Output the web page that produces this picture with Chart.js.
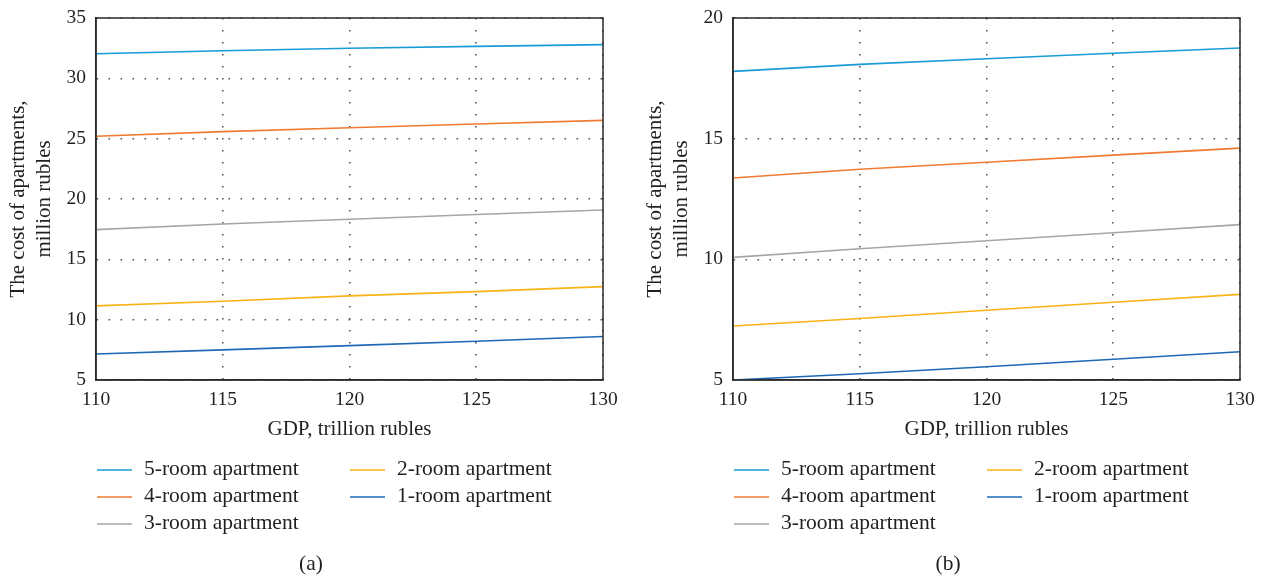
<!DOCTYPE html>
<html>
<head>
<meta charset="utf-8">
<title>Cost of apartments vs GDP</title>
<script src="https://cdn.jsdelivr.net/npm/chart.js@4.4.1/dist/chart.umd.min.js"></script>
<style>
  html, body { margin: 0; padding: 0; background: #fff; overflow: hidden; width: 1267px; height: 575px; }
  canvas { position: absolute; top: 0; }
  #chartA { left: 0; }
  #chartB { left: 637px; }
</style>
</head>
<body>
<canvas id="chartA" width="630" height="575"></canvas>
<canvas id="chartB" width="630" height="575"></canvas>
<script>
// GDP, trillion rubles
const gdp = [110, 115, 120, 125, 130];

const seriesNames = ['5-room apartment', '4-room apartment', '3-room apartment', '2-room apartment', '1-room apartment'];
const seriesColors = ['#1a9bd7', '#f07b30', '#a6a6a6', '#fbb216', '#2068b6'];

// Panel (a): cost of apartments, million rubles
const costA5 = [32.04, 32.29, 32.49, 32.65, 32.79];
const costA4 = [25.20, 25.58, 25.91, 26.22, 26.52];
const costA3 = [17.46, 17.93, 18.32, 18.71, 19.09];
const costA2 = [11.14, 11.53, 11.97, 12.32, 12.74];
const costA1 = [7.16, 7.50, 7.85, 8.21, 8.60];

// Panel (b): cost of apartments, million rubles
const costB5 = [17.79, 18.08, 18.31, 18.54, 18.76];
const costB4 = [13.37, 13.73, 14.02, 14.32, 14.61];
const costB3 = [10.08, 10.44, 10.77, 11.10, 11.44];
const costB2 = [7.24, 7.55, 7.89, 8.22, 8.55];
const costB1 = [5.00, 5.26, 5.55, 5.86, 6.17];

const xTicks = { min: 110, max: 130, step: 5 };
const yTicksA = { min: 5, max: 35, step: 5 };
const yTicksB = { min: 5, max: 20, step: 5 };

const TEXT = '#231f20';
const FAMILY = '"Liberation Serif", "Times New Roman", serif';
const FRAME = '#2a2a2a';

// Box around the whole plot area
const framePlugin = {
  id: 'frame',
  afterDatasetsDraw(chart) {
    const { ctx, chartArea: a } = chart;
    ctx.save();
    ctx.strokeStyle = FRAME;
    ctx.lineWidth = 1.5;
    ctx.strokeRect(a.left, a.top, a.right - a.left, a.bottom - a.top);
    ctx.restore();
  }
};

// Two-column legend under the plot plus the panel caption
const roomLegend = {
  id: 'roomLegend',
  afterDraw(chart, args, opts) {
    const { ctx, chartArea: a } = chart;
    ctx.save();
    ctx.font = '21.5px ' + FAMILY;
    ctx.textBaseline = 'middle';
    ctx.textAlign = 'left';
    ctx.fillStyle = TEXT;
    chart.data.datasets.forEach((d, i) => {
      const col = i < 3 ? 0 : 1;
      const row = i < 3 ? i : i - 3;
      const x0 = a.left + (col ? 254 : 1);
      const y = a.bottom + 90 + row * 27;
      ctx.strokeStyle = d.borderColor;
      ctx.lineWidth = 1.5;
      ctx.beginPath();
      ctx.moveTo(x0, y);
      ctx.lineTo(x0 + 35, y);
      ctx.stroke();
      ctx.fillText(d.label, x0 + 47, y - 1);
    });
    ctx.textAlign = 'center';
    ctx.fillText(opts.caption, a.left + 215, a.bottom + 184);
    ctx.restore();
  }
};

function makeChart(id, series, yRange, caption) {
  const tickFont = { family: FAMILY, size: 19.5 };
  const titleFont = { family: FAMILY, size: 21, lineHeight: 1.26 };
  const gridStyle = { color: '#555555', lineWidth: 1.6, drawTicks: false };
  const borderStyle = { display: true, color: FRAME, width: 1.5, dash: [1.6, 10.4] };
  return new Chart(document.getElementById(id), {
    type: 'line',
    data: {
      datasets: series.map((vals, i) => ({
        label: seriesNames[i],
        data: gdp.map((g, k) => ({ x: g, y: vals[k] })),
        borderColor: seriesColors[i],
        backgroundColor: seriesColors[i],
        borderWidth: 1.6,
        pointRadius: 0,
        tension: 0,
        fill: false
      }))
    },
    options: {
      responsive: false,
      animation: false,
      devicePixelRatio: 1,
      layout: { padding: { left: 0, top: 18, right: 27, bottom: 132 } },
      plugins: {
        legend: { display: false },
        tooltip: { enabled: false },
        roomLegend: { caption }
      },
      scales: {
        x: {
          type: 'linear',
          min: xTicks.min,
          max: xTicks.max,
          ticks: { stepSize: xTicks.step, padding: 8, font: tickFont, color: TEXT, maxRotation: 0 },
          grid: gridStyle,
          border: borderStyle,
          title: { display: true, text: 'GDP, trillion rubles', font: titleFont, color: TEXT, padding: { top: 0, bottom: 0 } },
          afterFit: s => { s.height = 63; }
        },
        y: {
          type: 'linear',
          min: yRange.min,
          max: yRange.max,
          ticks: { stepSize: yRange.step, padding: 10, font: tickFont, color: TEXT },
          grid: gridStyle,
          border: borderStyle,
          title: { display: true, text: ['The cost of apartments,', 'million rubles'], font: titleFont, color: TEXT, padding: { top: 5, bottom: 0 } },
          afterFit: s => { s.width = 96; s.paddingTop = 0; s.paddingBottom = 0; }
        }
      }
    },
    plugins: [framePlugin, roomLegend]
  });
}

makeChart('chartA', [costA5, costA4, costA3, costA2, costA1], yTicksA, '(a)');
makeChart('chartB', [costB5, costB4, costB3, costB2, costB1], yTicksB, '(b)');
</script>
</body>
</html>
